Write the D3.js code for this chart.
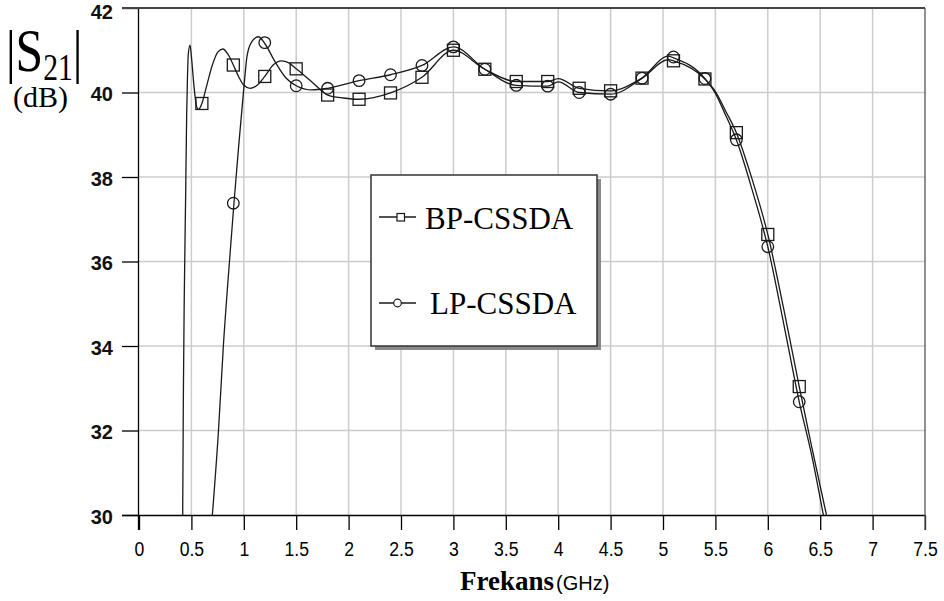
<!DOCTYPE html>
<html>
<head>
<meta charset="utf-8">
<script src="https://cdn.jsdelivr.net/npm/d3@7"></script>
<style>
  html, body { margin: 0; padding: 0; background: #fff; }
  svg { display: block; }
</style>
</head>
<body>
<svg id="chart" width="944" height="601"></svg>
<script>
// ---------------- DATA ----------------
const xTicks = [0, 0.5, 1, 1.5, 2, 2.5, 3, 3.5, 4, 4.5, 5, 5.5, 6, 6.5, 7, 7.5];
const xTickLabels = ["0", "0.5", "1", "1.5", "2", "2.5", "3", "3.5", "4", "4.5", "5", "5.5", "6", "6.5", "7", "7.5"];
const yTicks = [30, 32, 34, 36, 38, 40, 42];
const yTickLabels = ["30", "32", "34", "36", "38", "40", "42"];

const seriesNames = ["BP-CSSDA", "LP-CSSDA"];

// BP-CSSDA simulated curve (GHz, dB)
const bpFreq = [0.417, 0.423, 0.432, 0.445, 0.455, 0.462, 0.47, 0.487, 0.503, 0.525, 0.55, 0.568, 0.6, 0.65, 0.7, 0.75, 0.8, 0.85, 0.9, 0.95, 1.0, 1.06, 1.13, 1.2, 1.28, 1.36, 1.43, 1.5, 1.65, 1.8, 1.95, 2.1, 2.4, 2.7, 3.0, 3.3, 3.6, 3.9, 4.0, 4.2, 4.5, 4.8, 5.05, 5.1, 5.4, 5.5, 5.6, 5.7, 5.85, 6.0, 6.15, 6.3, 6.42, 6.56];
const bpGain = [30, 32.72, 35.17, 37.53, 39.5, 40.3, 40.9, 41.12, 40.77, 40.14, 39.66, 39.6, 39.74, 40.2, 40.65, 40.95, 41.03, 40.9, 40.65, 40.38, 40.17, 40.1, 40.18, 40.38, 40.65, 40.75, 40.7, 40.56, 40.25, 39.94, 39.87, 39.84, 39.99, 40.36, 41.0, 40.55, 40.26, 40.26, 40.33, 40.1, 40.04, 40.34, 40.78, 40.75, 40.32, 40.02, 39.55, 39.05, 37.95, 36.64, 34.9, 33.04, 31.6, 30];
const bpMarkFreq = [0.6, 0.9, 1.2, 1.5, 1.8, 2.1, 2.4, 2.7, 3.0, 3.3, 3.6, 3.9, 4.2, 4.5, 4.8, 5.1, 5.4, 5.7, 6.0, 6.3];
const bpMarkGain = [39.74, 40.65, 40.38, 40.56, 39.94, 39.84, 39.99, 40.36, 41.0, 40.55, 40.26, 40.26, 40.1, 40.04, 40.34, 40.75, 40.32, 39.05, 36.64, 33.04];

// LP-CSSDA simulated curve (GHz, dB)
const lpFreq = [0.70, 0.757, 0.805, 0.862, 0.906, 0.95, 0.99, 1.01, 1.03, 1.075, 1.14, 1.2, 1.3, 1.4, 1.5, 1.65, 1.8, 2.1, 2.4, 2.7, 3.0, 3.3, 3.6, 3.9, 4.0, 4.2, 4.5, 4.8, 5.05, 5.1, 5.4, 5.5, 5.6, 5.7, 5.85, 6.0, 6.15, 6.3, 6.42, 6.53];
const lpGain = [30, 31.94, 34.0, 35.96, 37.38, 38.7, 39.82, 40.37, 40.85, 41.2, 41.32, 41.16, 40.72, 40.35, 40.16, 40.06, 40.1, 40.28, 40.42, 40.64, 41.08, 40.55, 40.17, 40.15, 40.25, 40.0, 39.96, 40.34, 40.86, 40.82, 40.33, 39.98, 39.45, 38.88, 37.7, 36.35, 34.55, 32.68, 31.4, 30];
const lpMarkFreq = [0.9, 1.2, 1.5, 1.8, 2.1, 2.4, 2.7, 3.0, 3.3, 3.6, 3.9, 4.2, 4.5, 4.8, 5.1, 5.4, 5.7, 6.0, 6.3];
const lpMarkGain = [37.38, 41.18, 40.16, 40.1, 40.28, 40.42, 40.64, 41.08, 40.55, 40.17, 40.15, 40.0, 39.96, 40.34, 40.84, 40.33, 38.88, 36.35, 32.68];

// ---------------- LAYOUT ----------------
(function () {
const svg = d3.select("#chart");
const pL = 139, pR = 925, pT = 8, pB = 515;
const x = d3.scaleLinear().domain([0, 7.5]).range([pL, pR]);
const y = d3.scaleLinear().domain([30, 42]).range([pB, pT]);

const gridColor = "#cccccc";
const lineColor = "#1a1a1a";
const serif = "'Liberation Serif', 'Times New Roman', serif";
const sans = "'Liberation Sans', Arial, sans-serif";

// grid
const grid = svg.append("g");
grid.selectAll("line.gx").data(xTicks.filter(d => d > 0 && d < 7.5)).join("line")
  .attr("x1", d => x(d)).attr("x2", d => x(d))
  .attr("y1", pT).attr("y2", pB)
  .attr("stroke", gridColor).attr("stroke-width", 1.5);
grid.selectAll("line.gy").data(yTicks.filter(d => d > 30 && d < 42)).join("line")
  .attr("x1", pL).attr("x2", pR)
  .attr("y1", d => y(d)).attr("y2", d => y(d))
  .attr("stroke", gridColor).attr("stroke-width", 1.5);

// axes
const xAxis = d3.axisBottom(x).tickValues(xTicks)
  .tickFormat((d, i) => xTickLabels[i]).tickSize(15).tickPadding(11);
const gx = svg.append("g").attr("transform", `translate(0,${pB})`).call(xAxis);
gx.select(".domain").attr("d", `M${pL - 17},0.5H${pR}`).attr("stroke", "#000").attr("stroke-width", 1.3);
gx.selectAll(".tick line").attr("stroke", "#000").attr("stroke-width", 1.3);
gx.selectAll(".tick text")
  .attr("font-family", sans)
  .attr("font-size", 21).attr("fill", "#000")
  .attr("transform", "scale(0.84,1)");

const yAxis = d3.axisLeft(y).tickValues(yTicks)
  .tickFormat((d, i) => yTickLabels[i]).tickSize(17).tickPadding(9);
const gy = svg.append("g").attr("transform", `translate(${pL},0)`).call(yAxis);
gy.select(".domain").attr("d", `M-0.5,${pT}V${pB + 15}`).attr("stroke", "#000").attr("stroke-width", 1.3);
gy.selectAll(".tick line").attr("stroke", "#000").attr("stroke-width", 1.3);
gy.selectAll(".tick text")
  .attr("font-family", sans)
  .attr("font-size", 20).attr("font-weight", "bold").attr("fill", "#111")
  .attr("y", d => d === 42 ? 4 : 2);

// top border and right border
svg.append("line").attr("x1", pL - 17).attr("x2", pR).attr("y1", pT).attr("y2", pT)
  .attr("stroke", "#444").attr("stroke-width", 2.2);
svg.append("line").attr("x1", pR).attr("x2", pR).attr("y1", pT).attr("y2", pB + 15)
  .attr("stroke", "#555").attr("stroke-width", 1.3);

// curves
svg.append("clipPath").attr("id", "plotclip").append("rect")
  .attr("x", pL).attr("y", pT).attr("width", pR - pL).attr("height", pB - pT);
const line = d3.line().x(d => x(d[0])).y(d => y(d[1])).curve(d3.curveMonotoneX);
const plot = svg.append("g").attr("clip-path", "url(#plotclip)");
plot.append("path").datum(bpFreq.map((f, i) => [f, bpGain[i]]))
  .attr("d", line).attr("fill", "none").attr("stroke", lineColor).attr("stroke-width", 1.3);
plot.append("path").datum(lpFreq.map((f, i) => [f, lpGain[i]]))
  .attr("d", line).attr("fill", "none").attr("stroke", lineColor).attr("stroke-width", 1.3);

// markers
const sq = 12;
svg.append("g").selectAll("rect").data(bpMarkFreq.map((f, i) => [f, bpMarkGain[i]])).join("rect")
  .attr("x", d => x(d[0]) - sq / 2).attr("y", d => y(d[1]) - sq / 2)
  .attr("width", sq).attr("height", sq)
  .attr("fill", "none").attr("stroke", lineColor).attr("stroke-width", 1.3);
svg.append("g").selectAll("circle").data(lpMarkFreq.map((f, i) => [f, lpMarkGain[i]])).join("circle")
  .attr("cx", d => x(d[0])).attr("cy", d => y(d[1])).attr("r", 5.8)
  .attr("fill", "none").attr("stroke", lineColor).attr("stroke-width", 1.3);

// legend
const lg = svg.append("g");
lg.append("rect").attr("x", 375).attr("y", 179).attr("width", 226).attr("height", 171).attr("fill", "#8a8a8a");
lg.append("rect").attr("x", 371).attr("y", 175).attr("width", 226).attr("height", 171)
  .attr("fill", "#fff").attr("stroke", "#333").attr("stroke-width", 1.5);
lg.append("line").attr("x1", 379).attr("x2", 416).attr("y1", 217).attr("y2", 217).attr("stroke", lineColor).attr("stroke-width", 1.3);
lg.append("rect").attr("x", 397).attr("y", 213.5).attr("width", 7.5).attr("height", 7.5)
  .attr("fill", "#fff").attr("stroke", lineColor).attr("stroke-width", 1.2);
lg.append("text").attr("x", 425).attr("y", 229).text(seriesNames[0])
  .attr("font-family", serif).attr("font-size", 31).attr("fill", "#000");
lg.append("line").attr("x1", 379).attr("x2", 416).attr("y1", 303).attr("y2", 303).attr("stroke", lineColor).attr("stroke-width", 1.3);
lg.append("circle").attr("cx", 397.5).attr("cy", 303).attr("r", 3.8)
  .attr("fill", "#fff").attr("stroke", lineColor).attr("stroke-width", 1.2);
lg.append("text").attr("x", 430).attr("y", 314).text(seriesNames[1])
  .attr("font-family", serif).attr("font-size", 31).attr("fill", "#000");

// y-axis title |S21| (dB) as one text element
const yt = svg.append("text").attr("transform", "translate(6,71) scale(0.8,1)")
  .attr("font-family", serif).attr("fill", "#000");
yt.append("tspan").text("|").attr("font-size", 60);
yt.append("tspan").text("S").attr("font-size", 62);
yt.append("tspan").text("21").attr("font-size", 37).attr("dy", 9);
yt.append("tspan").text("|").attr("font-size", 60).attr("dy", -9);
svg.append("text").attr("x", 13).attr("y", 107).text("(dB)")
  .attr("font-family", serif).attr("font-size", 30).attr("fill", "#000");

// x-axis title
const xt = svg.append("text").attr("x", 460).attr("y", 590)
  .attr("font-family", serif).attr("fill", "#000");
xt.append("tspan").text("Frekans").attr("font-weight", "bold").attr("font-size", 27);
xt.append("tspan").text("(GHz)").attr("font-family", sans).attr("font-size", 20).attr("dx", 2);
})();
</script>
</body>
</html>
